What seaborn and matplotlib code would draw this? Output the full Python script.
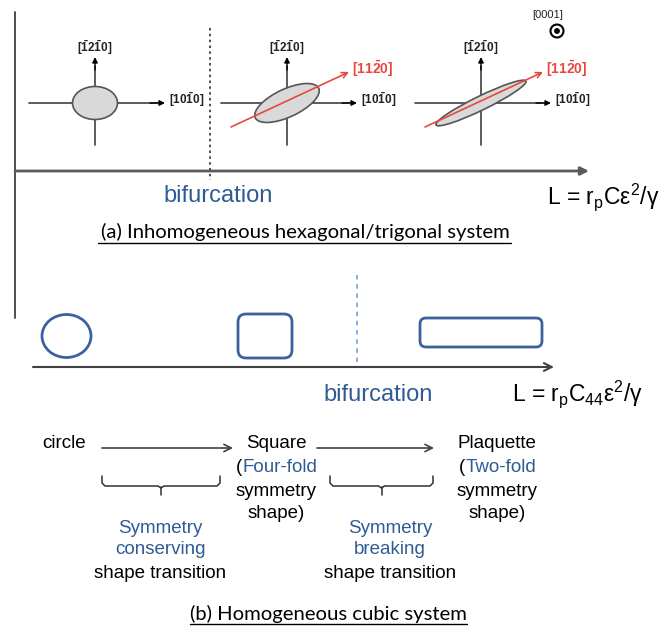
import matplotlib
matplotlib.use("Agg")
import matplotlib.pyplot as plt
import seaborn as sns
from matplotlib.patches import Ellipse, Circle, FancyBboxPatch

# ---- content of the schematic ----
ellipse_widths = [45, 70, 100]      # major axis of the strained inclusion
ellipse_heights = [33, 28, 14]      # minor axis
ellipse_angles = [0, 25, 26]        # tilt towards [11-20]
has_red_axis = [False, True, True]

label_vert = r'$\mathbf{[\bar{1}2\bar{1}0]}$'
label_horz = r'$\mathbf{[10\bar{1}0]}$'
label_red = r'$\mathbf{[11\bar{2}0]}$'
label_c = '[0001]'

formula_a = r'L = r$_{\rm p}$Cε$^{\rm 2}$/γ'
formula_b = r'L = r$_{\rm p}$C$_{\rm 44}$ε$^{\rm 2}$/γ'
caption_a = '(a) Inhomogeneous hexagonal/trigonal system'
caption_b = '(b) Homogeneous cubic system'

shape_names = ['circle', 'Square', 'Plaquette']
shape_notes = [None, 'Four-fold', 'Two-fold']
transition_kind = ['Symmetry\nconserving', 'Symmetry\nbreaking']

BLUE = '#2f5b95'
BLUE_LINE = '#3a639e'
RED = '#e8473f'
GRAY = '#404040'

sns.set_theme(style="white")
plt.rcParams['font.family'] = ['Liberation Sans', 'DejaVu Sans']
plt.rcParams['mathtext.fontset'] = 'custom'
plt.rcParams['mathtext.rm'] = 'Liberation Sans'
plt.rcParams['mathtext.it'] = 'Liberation Sans:italic'
plt.rcParams['mathtext.bf'] = 'Liberation Sans:bold'

fig = plt.figure(figsize=(6.68, 6.28), dpi=100)
ax = fig.add_axes([0, 0, 1, 1])
ax.set_xlim(0, 668)
ax.set_ylim(628, 0)
ax.axis('off')


def line(xs, ys, **kw):
    sns.lineplot(x=xs, y=ys, ax=ax, sort=False, estimator=None, legend=False, **kw)


def arrow(x0, y0, x1, y1, color=GRAY, lw=1.2, style='-|>', ms=8):
    ax.annotate('', xy=(x1, y1), xytext=(x0, y0),
                arrowprops=dict(arrowstyle=style, color=color, lw=lw,
                                mutation_scale=ms, shrinkA=0, shrinkB=0))


# ---------------- (a) hexagonal / trigonal ----------------
line([15, 15], [12, 318], color=GRAY, lw=1.3)
arrow(15, 171, 589, 171, color='#5a5a5a', lw=2.0, ms=12)
line([210, 210], [28, 180], color='#303030', lw=1.2, linestyle=(0, (1.5, 2)))

centers = [95, 287, 481]
for cx, w, h, ang, red in zip(centers, ellipse_widths, ellipse_heights,
                              ellipse_angles, has_red_axis):
    cy = 103
    line([cx, cx], [145, 66], color=GRAY, lw=1.2)
    arrow(cx, 70, cx, 57, color='black', lw=1.0, ms=8)
    line([cx - 66, cx + 62], [cy, cy], color=GRAY, lw=1.2)
    arrow(cx + 55, cy, cx + 70, cy, color='black', lw=1.0, ms=8)
    ax.add_patch(Ellipse((cx, cy), w, h, angle=-ang, facecolor='#d9d9d9',
                         edgecolor='#555555', lw=1.2, zorder=3))
    ax.text(cx, 48, label_vert, ha='center', va='center', fontsize=8.5, color='#222222')
    ax.text(cx + 92, 100, label_horz, ha='center', va='center', fontsize=8.5, color='#222222')
    if red:
        arrow(cx - 56, 127, cx + 62, 72, color=RED, lw=1.2, style='->', ms=10)
        ax.text(cx + 86, 69, label_red, ha='center', va='center', fontsize=10, color=RED)

ax.text(548, 15, label_c, ha='center', va='center', fontsize=8, color='#222222')
ax.add_patch(Circle((557, 31), 6.5, facecolor='white', edgecolor='black', lw=1.5))
ax.add_patch(Circle((557, 31), 2.2, facecolor='black', edgecolor='black'))

ax.text(218, 196, 'bifurcation', ha='center', va='center', fontsize=17, color=BLUE)
ax.text(547, 197, formula_a, ha='left', va='center', fontsize=16.5, color='black')
ax.text(305, 232, caption_a, ha='center', va='center', fontsize=14.6,
        family=['Lato', 'DejaVu Sans'], color='black')
line([98, 511], [243, 243], color='black', lw=1.0)

# ---------------- (b) cubic ----------------
line([357, 357], [275, 367], color='#6f98d2', lw=1.1, linestyle=(0, (3, 3)))
arrow(33, 367, 554, 367, color=GRAY, lw=1.5, style='->', ms=14)

ax.add_patch(Ellipse((66.5, 336), 49, 43, facecolor='none', edgecolor=BLUE_LINE, lw=2))
ax.add_patch(FancyBboxPatch((238, 314), 54, 44, boxstyle='round,pad=0,rounding_size=8',
                            facecolor='none', edgecolor=BLUE_LINE, lw=2))
ax.add_patch(FancyBboxPatch((420, 318), 122, 29, boxstyle='round,pad=0,rounding_size=6',
                            facecolor='none', edgecolor=BLUE_LINE, lw=2))

ax.text(378, 395, 'bifurcation', ha='center', va='center', fontsize=17, color=BLUE)
ax.text(512, 394, formula_b, ha='left', va='center', fontsize=16.5, color='black')

# shape sequence
fs = 13.5
name_x = [64, 276, 497]
notes = []
for x, name, note in zip(name_x, shape_names, shape_notes):
    ax.text(x, 444, name, ha='center', va='center', fontsize=fs, color='black')
    if note:
        notes.append(ax.text(x + 4, 467, note, ha='center', va='center',
                             fontsize=fs, color=BLUE))
        ax.text(x, 491, 'symmetry', ha='center', va='center', fontsize=fs, color='black')
        ax.text(x, 514, 'shape)', ha='center', va='center', fontsize=fs, color='black')

# opening parenthesis placed tight against the blue note
fig.canvas.draw()
renderer = fig.canvas.get_renderer()
for t in notes:
    bb = t.get_window_extent(renderer).transformed(ax.transData.inverted())
    ax.text(min(bb.x0, bb.x1) - 0.5, 467, '(', ha='right', va='center',
            fontsize=fs, color='black')

arrow(102, 448, 233, 448, color=GRAY, lw=1.2, style='->', ms=13)
arrow(317, 448, 434, 448, color=GRAY, lw=1.2, style='->', ms=13)

# braces
for x0, x1, tx, kind in [(102, 220, 160, transition_kind[0]),
                         (330, 433, 390, transition_kind[1])]:
    xm = (x0 + x1) / 2
    line([x0, x0, x0 + 3, xm - 3, xm, xm + 3, x1 - 3, x1, x1],
         [476, 483, 486, 486, 488, 486, 486, 483, 476], color='#303030', lw=1.1)
    line([xm, xm], [487, 495], color='#303030', lw=1.1)
    ax.text(tx, 539, kind, ha='center', va='center', fontsize=fs, color=BLUE,
            linespacing=1.25)
    ax.text(tx, 574, 'shape transition', ha='center', va='center', fontsize=fs, color='black')

ax.text(328, 614, caption_b, ha='center', va='center', fontsize=14.6,
        family=['Lato', 'DejaVu Sans'], color='black')
line([190, 467], [624, 624], color='black', lw=1.0)

fig.savefig('out.png', dpi=100)
